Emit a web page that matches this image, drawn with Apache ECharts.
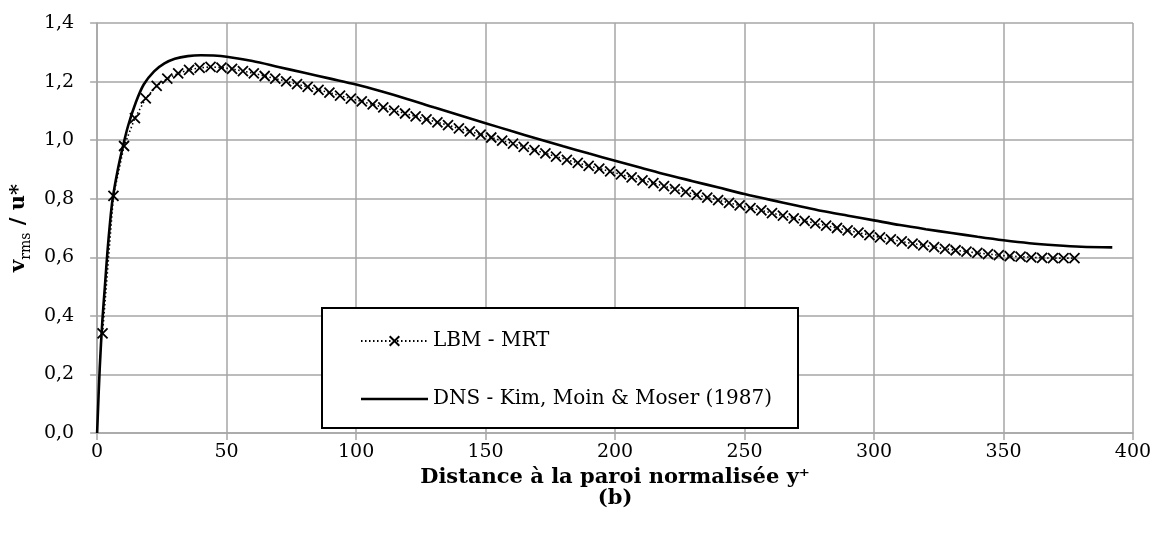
<!DOCTYPE html>
<html>
<head>
<meta charset="utf-8">
<script src="https://cdn.jsdelivr.net/npm/echarts@6/dist/echarts.min.js"></script>
<style>
html,body{margin:0;padding:0;background:#fff;}
#chart{width:1157px;height:549px;}
</style>
</head>
<body>
<div id="chart"></div>
<script>
// ---- data ----
var lbmX = [2.1, 6.3, 10.4, 14.6, 18.8, 23.0, 27.1, 31.3, 35.5, 39.6, 43.8, 48.0, 52.1, 56.3, 60.5, 64.7, 68.8, 73.0, 77.2, 81.3,
  85.5, 89.7, 93.8, 98.0, 102.2, 106.4, 110.5, 114.7, 118.9, 123.0, 127.2, 131.4, 135.5, 139.7, 143.9, 148.1, 152.2, 156.4, 160.6, 164.7,
  168.9, 173.1, 177.2, 181.4, 185.6, 189.8, 193.9, 198.1, 202.3, 206.4, 210.6, 214.8, 218.9, 223.1, 227.3, 231.5, 235.6, 239.8, 244.0, 248.1,
  252.3, 256.5, 260.6, 264.8, 269.0, 273.2, 277.3, 281.5, 285.7, 289.8, 294.0, 298.2, 302.3, 306.5, 310.7, 314.9, 319.0, 323.2, 327.4, 331.5,
  335.7, 339.9, 344.0, 348.2, 352.4, 356.6, 360.7, 364.9, 369.1, 373.2, 377.4];
var lbmY = [0.34, 0.81, 0.98, 1.075, 1.143, 1.185, 1.21, 1.228, 1.24, 1.247, 1.25, 1.248, 1.243, 1.236, 1.228, 1.219, 1.21, 1.201, 1.191, 1.182,
  1.172, 1.162, 1.152, 1.142, 1.132, 1.122, 1.112, 1.101, 1.091, 1.081, 1.071, 1.061, 1.051, 1.04, 1.03, 1.019, 1.009, 0.998, 0.988, 0.977,
  0.966, 0.955, 0.944, 0.933, 0.922, 0.912, 0.903, 0.893, 0.883, 0.873, 0.863, 0.853, 0.843, 0.833, 0.823, 0.813, 0.804, 0.795, 0.786, 0.777,
  0.768, 0.76, 0.751, 0.742, 0.733, 0.724, 0.716, 0.708, 0.7, 0.692, 0.684, 0.676, 0.668, 0.661, 0.654, 0.647, 0.641, 0.635, 0.629, 0.624,
  0.619, 0.615, 0.611, 0.607, 0.604, 0.602, 0.6, 0.598, 0.597, 0.597, 0.597];
var dnsX = [0, 1, 2, 3, 4, 5, 6, 8, 10, 12, 15, 18, 22, 26, 30, 35, 40, 45, 50, 60, 70, 80, 90, 100, 110, 120, 130, 140, 150, 160,
  170, 180, 190, 200, 210, 220, 230, 240, 250, 260, 270, 280, 290, 300, 310, 320, 330, 340, 350, 360, 370, 380, 392];
var dnsY = [0, 0.22, 0.38, 0.5, 0.62, 0.72, 0.8, 0.9, 0.98, 1.05, 1.13, 1.19, 1.235, 1.262, 1.278, 1.287, 1.29, 1.289, 1.285, 1.27,
  1.25, 1.23, 1.21, 1.19, 1.166, 1.14, 1.112, 1.085, 1.058, 1.031, 1.005, 0.979, 0.954, 0.93, 0.906, 0.882, 0.86, 0.838, 0.816, 0.796,
  0.777, 0.758, 0.742, 0.726, 0.71, 0.696, 0.683, 0.67, 0.658, 0.648, 0.641, 0.636, 0.634];
var seriesNames = ['LBM - MRT', 'DNS - Kim, Moin & Moser (1987)'];
var xTicks = ['0', '50', '100', '150', '200', '250', '300', '350', '400'];
var yTicks = ['0,0', '0,2', '0,4', '0,6', '0,8', '1,0', '1,2', '1,4'];
var xTitle = 'Distance à la paroi normalisée y⁺';
var subTitle = '(b)';

function zip(a, b) { var r = []; for (var i = 0; i < a.length; i++) r.push([a[i], b[i]]); return r; }

var FONT = 'DejaVu Serif';
var GRID = '#a6a6a6';
var chart = echarts.init(document.getElementById('chart'), null, { renderer: 'canvas' });
chart.setOption({
  animation: false,
  backgroundColor: '#ffffff',
  grid: { left: 95.5, right: 24, top: 23, bottom: 116, containLabel: false },
  xAxis: {
    type: 'value', min: 0, max: 400, interval: 50,
    axisLine: { show: true, lineStyle: { color: GRID, width: 1.5 } },
    axisTick: { show: true, length: 7, lineStyle: { color: GRID, width: 1.5 } },
    splitLine: { show: true, lineStyle: { color: GRID, width: 1.5 } },
    axisLabel: { margin: 10, color: '#000', fontFamily: FONT, fontSize: 19,
      formatter: function (v) { return xTicks[Math.round(v / 50)]; } },
    name: xTitle + '\n' + subTitle, nameLocation: 'middle', nameGap: 26,
    nameTextStyle: { color: '#000', fontFamily: FONT, fontSize: 21, fontWeight: 'bold', lineHeight: 21 }
  },
  yAxis: {
    type: 'value', min: 0, max: 1.4, interval: 0.2,
    axisLine: { show: true, lineStyle: { color: GRID, width: 1.5 } },
    axisTick: { show: true, length: 7, lineStyle: { color: GRID, width: 1.5 } },
    splitLine: { show: true, lineStyle: { color: GRID, width: 1.5 } },
    axisLabel: { margin: 23, color: '#000', fontFamily: FONT, fontSize: 19,
      formatter: function (v) { return yTicks[Math.round(v / 0.2)]; } },
    name: '{b|v}{s|rms}{b| / u*}', nameLocation: 'middle', nameGap: 52, nameRotate: 90,
    nameTextStyle: {
      color: '#000', fontFamily: FONT,
      rich: {
        b: { fontFamily: FONT, fontSize: 21, fontWeight: 'bold', color: '#000', verticalAlign: 'bottom', lineHeight: 22, padding: [0, 0, 4, 0] },
        s: { fontFamily: FONT, fontSize: 14, color: '#000', verticalAlign: 'bottom', lineHeight: 14 }
      }
    }
  },
  graphic: [{
    type: 'rect', z: 10, left: 321, top: 307,
    shape: { width: 476, height: 120 },
    style: { fill: '#fff', stroke: '#000', lineWidth: 2 }
  }],
  legend: {
    z: 20, orient: 'vertical', left: 355, top: 326, itemWidth: 67, itemHeight: 12, itemGap: 38,
    textStyle: { fontFamily: FONT, fontSize: 20, color: '#000' },
    data: [
      { name: seriesNames[0] },
      { name: seriesNames[1], icon: 'path://M0,0L100,0L100,4L0,4Z', itemStyle: { color: '#000' } }
    ]
  },
  series: [
    {
      name: seriesNames[0], type: 'line', data: zip(lbmX, lbmY),
      symbol: 'path://M0,0L10,10M10,0L0,10', symbolSize: 10, showSymbol: true,
      itemStyle: { color: '#000', borderColor: '#000', borderWidth: 1.8 },
      lineStyle: { color: '#000', width: 1.6, type: [1.5, 2.5] },
      z: 3
    },
    {
      name: seriesNames[1], type: 'line', data: zip(dnsX, dnsY),
      symbol: 'none', showSymbol: false, smooth: 0.3,
      itemStyle: { color: '#000' },
      lineStyle: { color: '#000', width: 2.6 },
      z: 4
    }
  ]
});
</script>
</body>
</html>
